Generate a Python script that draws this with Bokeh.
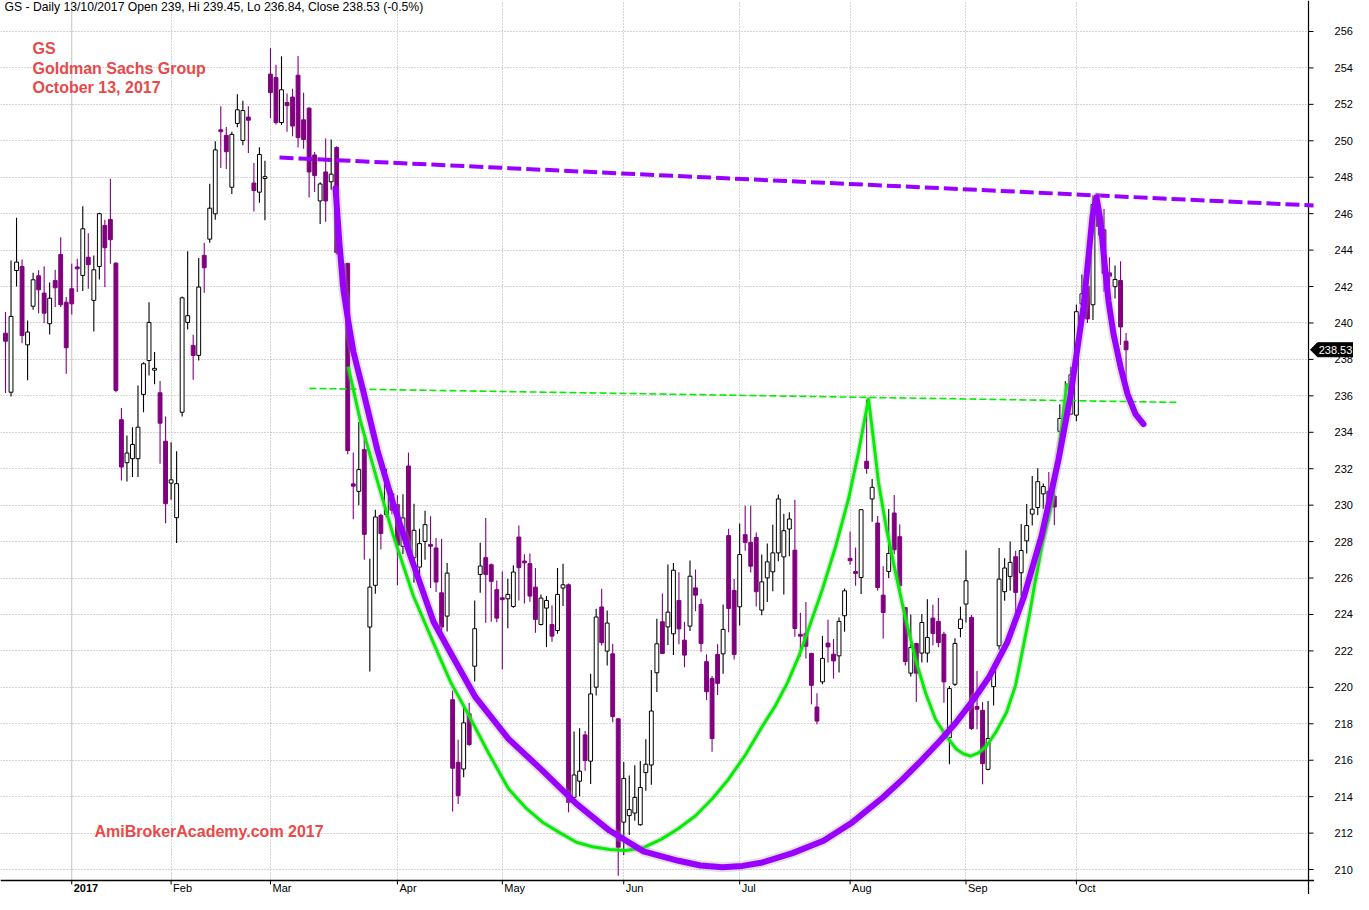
import numpy as np
from bokeh.plotting import figure
from bokeh.models import ColumnDataSource, FixedTicker, Range1d, Span, Label, Grid
from bokeh.core.properties import value
from bokeh.embed import file_html
from bokeh.resources import INLINE

# ---------------- data (daily OHLC, GS, Dec 2016 - 13 Oct 2017) ----------------
opens = [239.44, 236.2, 242.88, 243.1, 238.8, 240.92, 242.59, 241.64, 239.96, 242.33,
         243.76, 241.14, 241.88, 243.07, 242.61, 243.61, 241.24, 243.1, 245.35, 245.68,
         243.28, 234.69, 232.33, 232.55, 232.55, 236.08, 237.94, 237.43, 236.17, 233.51,
         231.21, 229.31, 235.1, 240.03, 238.77, 238.22, 243.71, 244.6, 245.99, 250.6,
         250.3, 247.45, 250.95, 250.02, 251.3, 247.68, 247.18, 247.97, 253.66, 253.47,
         251.0, 252.1, 252.4, 253.6, 251.15, 251.79, 249.22, 246.7, 248.29, 247.75,
         249.63, 243.27, 243.27, 231.17, 230.76, 233.05, 223.31, 225.6, 229.44, 229.48,
         230.63, 230.03, 227.74, 232.15, 227.12, 226.6, 228.01, 227.83, 227.65, 225.19,
         223.91, 219.32, 215.89, 215.52, 218.55, 221.16, 226.2, 227.12, 226.73, 225.36,
         224.9, 224.86, 224.44, 228.25, 226.92, 226.79, 225.5, 223.45, 224.35, 223.45,
         223.12, 225.45, 225.63, 213.96, 214.85, 217.39, 215.95, 220.01, 224.41, 221.99,
         221.84, 218.27, 212.6, 212.96, 213.1, 212.46, 215.32, 215.74, 220.8, 223.6,
         223.32, 222.94, 224.77, 222.59, 223.36, 225.46, 224.55, 221.41, 220.49, 221.81,
         221.84, 228.33, 225.32, 224.42, 228.38, 227.96, 228.23, 224.24, 226.01, 226.34,
         227.38, 227.16, 228.69, 227.53, 222.9, 222.96, 221.86, 218.92, 220.3, 222.43,
         221.82, 221.73, 223.93, 227.08, 226.36, 226.03, 232.41, 230.34, 229.02, 225.06,
         226.36, 229.57, 228.27, 224.38, 220.78, 222.41, 221.88, 221.88, 223.8, 223.62,
         222.92, 217.24, 220.17, 223.23, 224.57, 223.84, 218.95, 218.74, 215.5, 220.04,
         222.28, 225.25, 226.09, 227.17, 226.29, 228.04, 229.51, 229.87, 230.62, 230.77,
         230.5, 234.05, 234.4, 235.0, 234.94, 241.05, 242.01, 241.0, 246.3, 245.12,
         242.75, 241.99, 242.33, 239.0]
highs = [240.6, 243.43, 245.78, 243.49, 240.14, 242.76, 242.9, 243.12, 242.22, 242.92,
         244.71, 241.42, 243.25, 243.52, 246.4, 244.93, 243.7, 246.05, 245.67, 247.92,
         243.34, 235.33, 233.83, 234.28, 236.57, 237.85, 241.14, 238.4, 236.81, 234.87,
         233.46, 232.96, 241.45, 243.93, 239.35, 243.56, 244.4, 247.64, 249.97, 251.9,
         250.75, 250.5, 252.55, 252.2, 251.9, 248.78, 249.65, 248.9, 255.08, 254.17,
         254.64, 252.6, 252.86, 254.65, 252.64, 251.84, 249.39, 247.73, 250.12, 250.07,
         249.7, 243.3, 243.3, 232.89, 234.57, 233.69, 227.06, 229.75, 229.53, 232.0,
         230.8, 230.55, 230.6, 232.89, 230.08, 228.71, 229.7, 229.39, 228.2, 228.16,
         226.82, 219.83, 217.12, 218.91, 219.15, 224.77, 227.94, 229.3, 226.8, 225.87,
         226.37, 225.96, 226.7, 228.89, 227.3, 227.34, 226.55, 225.1, 225.01, 224.5,
         226.55, 226.79, 225.7, 217.57, 217.76, 217.61, 220.74, 224.31, 225.41, 224.22,
         222.39, 218.3, 215.9, 215.16, 215.73, 215.96, 217.15, 220.95, 223.76, 225.15,
         226.74, 226.83, 226.32, 223.6, 226.96, 226.47, 224.86, 221.81, 220.62, 222.36,
         224.55, 228.71, 225.95, 228.99, 229.97, 229.97, 228.5, 227.29, 227.89, 228.93,
         230.58, 229.53, 229.61, 230.3, 224.1, 224.69, 221.9, 219.67, 222.83, 223.71,
         222.65, 223.84, 225.43, 228.56, 227.68, 229.75, 235.8, 231.44, 229.4, 226.65,
         229.79, 230.56, 228.95, 224.4, 224.0, 222.45, 224.02, 224.84, 224.53, 224.9,
         223.05, 220.08, 222.7, 224.43, 227.53, 223.97, 220.9, 219.2, 219.25, 221.09,
         227.65, 227.08, 228.0, 227.5, 228.97, 230.07, 231.6, 232.02, 231.19, 231.82,
         230.9, 235.54, 236.8, 237.6, 241.02, 242.66, 242.6, 247.0, 246.9, 246.26,
         243.6, 243.15, 243.39, 239.45]
lows = [236.15, 235.97, 242.0, 238.89, 236.85, 240.72, 240.54, 239.99, 239.37, 240.87,
        240.87, 237.21, 240.47, 241.7, 241.75, 241.88, 239.53, 242.39, 241.97, 243.25,
        236.2, 231.36, 231.3, 231.54, 231.54, 235.1, 237.12, 236.63, 232.27, 229.01,
        230.3, 227.92, 234.87, 239.64, 236.88, 237.94, 241.66, 244.4, 245.67, 248.5,
        248.45, 247.08, 250.74, 249.76, 249.33, 246.12, 246.6, 245.64, 251.24, 250.9,
        250.86, 250.5, 250.25, 249.63, 249.56, 246.89, 247.19, 245.43, 245.55, 247.31,
        243.76, 241.56, 232.8, 229.22, 229.99, 227.0, 220.87, 225.14, 227.56, 229.33,
        229.5, 225.6, 227.32, 227.5, 225.74, 226.14, 227.0, 225.45, 225.23, 223.03,
        223.07, 213.18, 213.6, 215.07, 216.8, 220.32, 225.19, 223.55, 223.6, 223.58,
        220.98, 223.25, 224.37, 224.77, 224.6, 224.7, 223.0, 223.4, 222.21, 222.5,
        222.94, 224.46, 213.14, 213.91, 214.02, 215.42, 214.7, 219.55, 222.3, 221.2,
        218.09, 209.66, 210.8, 211.9, 212.68, 212.4, 214.32, 214.65, 219.74, 221.86,
        222.32, 221.77, 222.36, 221.11, 223.09, 224.18, 221.95, 219.31, 216.46, 219.58,
        220.75, 223.03, 221.53, 223.4, 227.5, 226.3, 224.44, 223.96, 224.69, 225.28,
        226.92, 225.1, 227.2, 222.78, 221.7, 221.59, 219.07, 217.97, 220.17, 221.36,
        220.48, 220.81, 223.05, 226.73, 225.58, 225.12, 231.73, 229.09, 225.3, 222.68,
        226.0, 227.3, 225.0, 221.2, 220.6, 219.2, 221.36, 221.36, 222.3, 222.2,
        219.16, 215.78, 220.08, 222.75, 223.56, 217.66, 217.7, 214.68, 215.45, 219.01,
        222.06, 224.75, 225.3, 223.84, 225.0, 227.35, 228.88, 229.45, 229.8, 229.09,
        228.9, 232.53, 234.0, 234.97, 234.6, 240.38, 240.0, 240.16, 244.8, 241.71,
        241.7, 241.35, 238.79, 236.84]
closes = [239.0, 240.36, 243.34, 239.31, 239.5, 242.37, 241.82, 240.54, 241.36, 241.93,
          241.0, 238.64, 241.05, 242.98, 245.17, 243.2, 242.92, 246.0, 244.13, 244.57,
          236.3, 232.09, 232.86, 233.33, 234.28, 237.76, 240.03, 237.49, 234.5, 230.08,
          231.39, 231.18, 241.38, 240.4, 238.22, 241.97, 243.03, 246.3, 249.5, 250.5,
          249.4, 250.35, 251.7, 251.66, 251.13, 247.27, 249.25, 247.99, 252.64, 251.0,
          252.8, 251.93, 250.81, 250.17, 250.07, 248.29, 248.09, 247.63, 246.7, 248.17,
          243.86, 242.05, 233.0, 231.04, 231.95, 228.4, 225.5, 229.35, 228.44, 231.46,
          229.72, 227.8, 229.3, 227.6, 228.62, 227.89, 228.93, 227.76, 225.78, 223.31,
          226.27, 215.56, 214.06, 218.05, 216.86, 223.22, 226.66, 226.2, 225.82, 223.8,
          224.83, 225.1, 226.33, 226.57, 226.85, 225.01, 223.73, 224.9, 224.77, 222.81,
          225.1, 225.63, 213.69, 215.19, 215.4, 215.98, 219.64, 223.86, 222.45, 223.53,
          218.4, 211.22, 215.0, 213.29, 213.96, 214.5, 215.78, 218.7, 222.39, 221.86,
          224.13, 226.43, 223.21, 221.77, 226.1, 225.06, 222.41, 219.76, 217.19, 220.22,
          223.18, 224.33, 221.81, 227.29, 227.96, 226.65, 225.25, 225.79, 226.89, 227.38,
          230.34, 228.6, 229.24, 223.23, 222.82, 222.26, 220.11, 218.15, 221.59, 222.22,
          221.45, 223.62, 225.3, 226.95, 226.25, 229.75, 232.02, 230.98, 225.48, 224.11,
          227.35, 227.55, 225.58, 221.42, 222.19, 220.78, 223.56, 222.74, 222.96, 222.46,
          220.3, 219.93, 222.41, 223.74, 225.85, 217.74, 218.8, 215.81, 217.19, 221.03,
          225.94, 226.55, 226.86, 225.21, 227.51, 228.88, 229.78, 231.29, 231.02, 229.93,
          229.9, 234.76, 235.5, 237.15, 240.62, 241.6, 240.22, 246.5, 245.3, 242.72,
          242.57, 242.39, 239.78, 238.53]

# month start bars and tick labels
month_idx = [12, 30, 48, 71, 90, 112, 133, 153, 174, 194]
month_labels = ["2017", "Feb", "Mar", "Apr", "May", "Jun", "Jul", "Aug", "Sep", "Oct"]
price_ticks = list(range(210, 257, 2))

# hand-drawn pattern lines (bar index, price)
cup_x = [59.78, 60.51, 61.23, 62.14, 63.04, 64.86, 67.39, 70.11, 73.37, 77.54,
         80.62, 85.14, 91.12, 97.28, 103.44, 109.42, 115.58, 121.92, 125.91, 129.89,
         133.51, 137.14, 142.57, 148.19, 153.44, 158.88, 162.5, 166.12, 169.38, 172.28,
         175.54, 178.26, 181.52, 184.42, 187.68, 190.76, 192.93, 195.29, 196.92, 197.64,
         198.37, 199.09, 199.82, 200.72, 201.99, 203.26, 204.71, 206.16]
cup_y = [247.4, 244.3, 241.8, 240.0, 238.4, 236.2, 233.0, 230.2, 227.2, 223.6,
         221.9, 219.46, 217.17, 215.43, 213.6, 212.14, 211.0, 210.48, 210.22, 210.12,
         210.2, 210.39, 210.9, 211.58, 212.6, 213.94, 214.95, 216.05, 217.1, 218.1,
         219.4, 220.6, 222.5, 224.9, 228.3, 232.5, 236.0, 240.9, 245.85, 246.9,
         245.6, 243.3, 241.2, 239.4, 237.6, 236.1, 235.0, 234.45]
wave_x = [62.08, 64.31, 67.21, 70.29, 73.91, 77.72, 80.62, 83.88, 87.5, 91.12,
          94.2, 97.28, 100.54, 103.44, 106.34, 109.42, 112.32, 115.58, 118.84, 121.92,
          125.0, 128.08, 130.98, 134.06, 137.14, 139.49, 141.67, 143.84, 145.83, 148.01,
          150.36, 152.72, 154.53, 156.34, 157.25, 158.15, 159.6, 161.23, 163.04, 164.86,
          166.67, 168.48, 170.47, 172.28, 173.55, 174.82, 176.27, 177.72, 179.53, 181.34,
          182.97, 184.42, 185.51, 186.41, 187.86, 189.49, 190.4, 191.3, 192.3]
wave_y = [237.6, 234.6, 231.5, 228.3, 225.0, 222.3, 220.3, 218.5, 216.4, 214.43,
          213.4, 212.6, 212.0, 211.5, 211.25, 211.1, 211.04, 211.2, 211.67, 212.25,
          212.95, 213.9, 214.96, 216.3, 217.88, 219.0, 220.26, 221.8, 223.5, 225.4,
          227.7, 230.34, 232.9, 235.83, 233.6, 231.25, 228.7, 226.31, 223.8, 221.55,
          219.7, 218.25, 217.3, 216.6, 216.35, 216.23, 216.4, 216.78, 217.6, 218.62,
          220.1, 222.3, 224.0, 225.6, 227.9, 230.0, 232.0, 234.24, 236.7]
resist_x = [49.64, 236.96]
resist_y = [249.08, 246.45]
neck_x = [55.07, 212.5]
neck_y = [236.41, 235.64]

PURPLE = "#800080"
VIOLET = "#9a00ff"
LIME = "#00f000"
RED = "#e84a4a"
GRID = "#ababab"
FONT = "Liberation Sans"

# ---------------- geometry of the frame (bar index / price units) ----------------
X0, X1 = -0.906, 244.2          # whole canvas
Y0, Y1 = 208.63, 257.70
AXIS_X = 236.05                 # right price axis
AXIS_Y = 209.40                 # bottom date axis
PX = (X1 - X0) / 1353.0         # bar units per pixel
PY = (Y1 - Y0) / 894.0          # price units per pixel

o = np.array(opens); h = np.array(highs); l = np.array(lows); c = np.array(closes)
x = np.arange(len(o))
up = c >= o
top = np.maximum(o, c)
bot = np.minimum(o, c)
mid = (top + bot) / 2
thin = (top - bot) < 0.1
top = np.where(thin, mid + 0.05, top)
bot = np.where(thin, mid - 0.05, bot)
wick_col = np.where(up, "black", PURPLE)

src_w = ColumnDataSource(dict(x=x, h=h, l=l, col=wick_col))
src_up = ColumnDataSource(dict(x=x[up], top=top[up], bot=bot[up]))
src_dn = ColumnDataSource(dict(x=x[~up], top=top[~up], bot=bot[~up]))

p = figure(width=1353, height=894, output_backend="svg", toolbar_location=None,
           x_range=Range1d(X0, X1), y_range=Range1d(Y0, Y1),
           x_axis_location=None, y_axis_location=None,
           min_border_left=0, min_border_top=0, min_border_right=0, min_border_bottom=0)
p.outline_line_color = None
p.background_fill_color = "white"
p.border_fill_color = "white"
p.xgrid.visible = False
p.ygrid.visible = False

# grids
p.add_layout(Grid(dimension=1, ticker=FixedTicker(ticks=price_ticks), grid_line_color=GRID,
                  grid_line_dash="1 2", grid_line_width=1))
p.add_layout(Grid(dimension=0, ticker=FixedTicker(ticks=month_idx[1:]), grid_line_color=GRID,
                  grid_line_dash="1 2", grid_line_width=1))
p.add_layout(Span(location=month_idx[0], dimension="height", line_color="#c4c4c4",
                  line_width=1, level="underlay"))

# masks outside the plotting area (axis margins)
p.quad(left=AXIS_X, right=X1, bottom=Y0, top=Y1, fill_color="white", line_color=None)
p.quad(left=X0, right=X1, bottom=Y0, top=AXIS_Y, fill_color="white", line_color=None)

# right price axis
p.segment(x0=[AXIS_X], y0=[Y0], x1=[AXIS_X], y1=[Y1], line_color="black", line_width=1.2)
p.segment(x0=[AXIS_X] * len(price_ticks), y0=price_ticks,
          x1=[AXIS_X + 5 * PX] * len(price_ticks), y1=price_ticks, line_color="black", line_width=1)
p.text(x=[AXIS_X + 26 * PX] * len(price_ticks), y=price_ticks, text=[str(t) for t in price_ticks],
       text_font=value(FONT), text_font_size="11px", text_baseline="middle",
       text_align="left", text_color="black")

# bottom date axis
p.segment(x0=[X0], y0=[AXIS_Y], x1=[AXIS_X + 1], y1=[AXIS_Y], line_color="black", line_width=1.5)
p.segment(x0=month_idx, y0=[AXIS_Y] * len(month_idx), x1=month_idx,
          y1=[AXIS_Y - 4 * PY] * len(month_idx), line_color="black", line_width=1)
lab_x = [m + 2 * PX for m in month_idx]
lab_y = [AXIS_Y - 8 * PY] * len(month_idx)
p.text(x=lab_x[:1], y=lab_y[:1], text=month_labels[:1], text_font=value(FONT),
       text_font_size="11px", text_font_style="bold", text_baseline="middle", text_align="left",
       text_color="black")
p.text(x=lab_x[1:], y=lab_y[1:], text=month_labels[1:], text_font=value(FONT),
       text_font_size="11px", text_baseline="middle", text_align="left", text_color="black")

# candles
p.segment(x0="x", y0="l", x1="x", y1="h", line_color="col", line_width=1.1, source=src_w)
p.vbar(x="x", width=0.7, top="top", bottom="bot", fill_color="white", line_color="black",
       line_width=1, source=src_up)
p.vbar(x="x", width=0.7, top="top", bottom="bot", fill_color=PURPLE, line_color=PURPLE,
       line_width=1, source=src_dn)

# pattern lines
p.line(neck_x, neck_y, line_color=LIME, line_width=1.6, line_dash="7 3")
p.line(wave_x, wave_y, line_color="#9a9a9a", line_width=6, line_alpha=0.3, line_join="round")
p.line(wave_x, wave_y, line_color=LIME, line_width=3, line_join="round")
p.line(resist_x, resist_y, line_color=VIOLET, line_width=4, line_dash="14 5")
p.line(cup_x, cup_y, line_color="#9a9a9a", line_width=10, line_alpha=0.3, line_join="round")
p.line(cup_x, cup_y, line_color=VIOLET, line_width=6, line_join="round", line_cap="round")

# last price marker on the price axis
last = closes[-1]
hh = 7 * PY
p.patch(x=[AXIS_X + 2 * PX, AXIS_X + 9 * PX, X1, X1, AXIS_X + 9 * PX],
        y=[last, last + hh, last + hh, last - hh, last - hh], fill_color="black", line_color="black")
p.text(x=[(AXIS_X + 9 * PX + X1) / 2], y=[last], text=["%.2f" % last],
       text_font=value(FONT), text_font_size="11px", text_baseline="middle",
       text_align="center", text_color="white")

# texts
p.add_layout(Label(x=4, x_units="screen", y=257.32,
                   text="GS - Daily 13/10/2017 Open 239, Hi 239.45, Lo 236.84, Close 238.53 (-0.5%)",
                   text_baseline="middle", text_font=FONT, text_font_size="12.2px",
                   text_color="black"))
for yy, t in zip([255.07, 253.97, 252.93], ["GS", "Goldman Sachs Group", "October 13, 2017"]):
    p.add_layout(Label(x=32, x_units="screen", y=yy, text=t, text_baseline="middle",
                       text_font=FONT, text_font_size="16px", text_font_style="bold",
                       text_color=RED))
p.add_layout(Label(x=94, x_units="screen", y=212.09, text="AmiBrokerAcademy.com  2017",
                   text_baseline="middle", text_font=FONT, text_font_size="16px",
                   text_font_style="bold", text_color=RED))

open("out.html", "w").write(file_html(p, INLINE))
